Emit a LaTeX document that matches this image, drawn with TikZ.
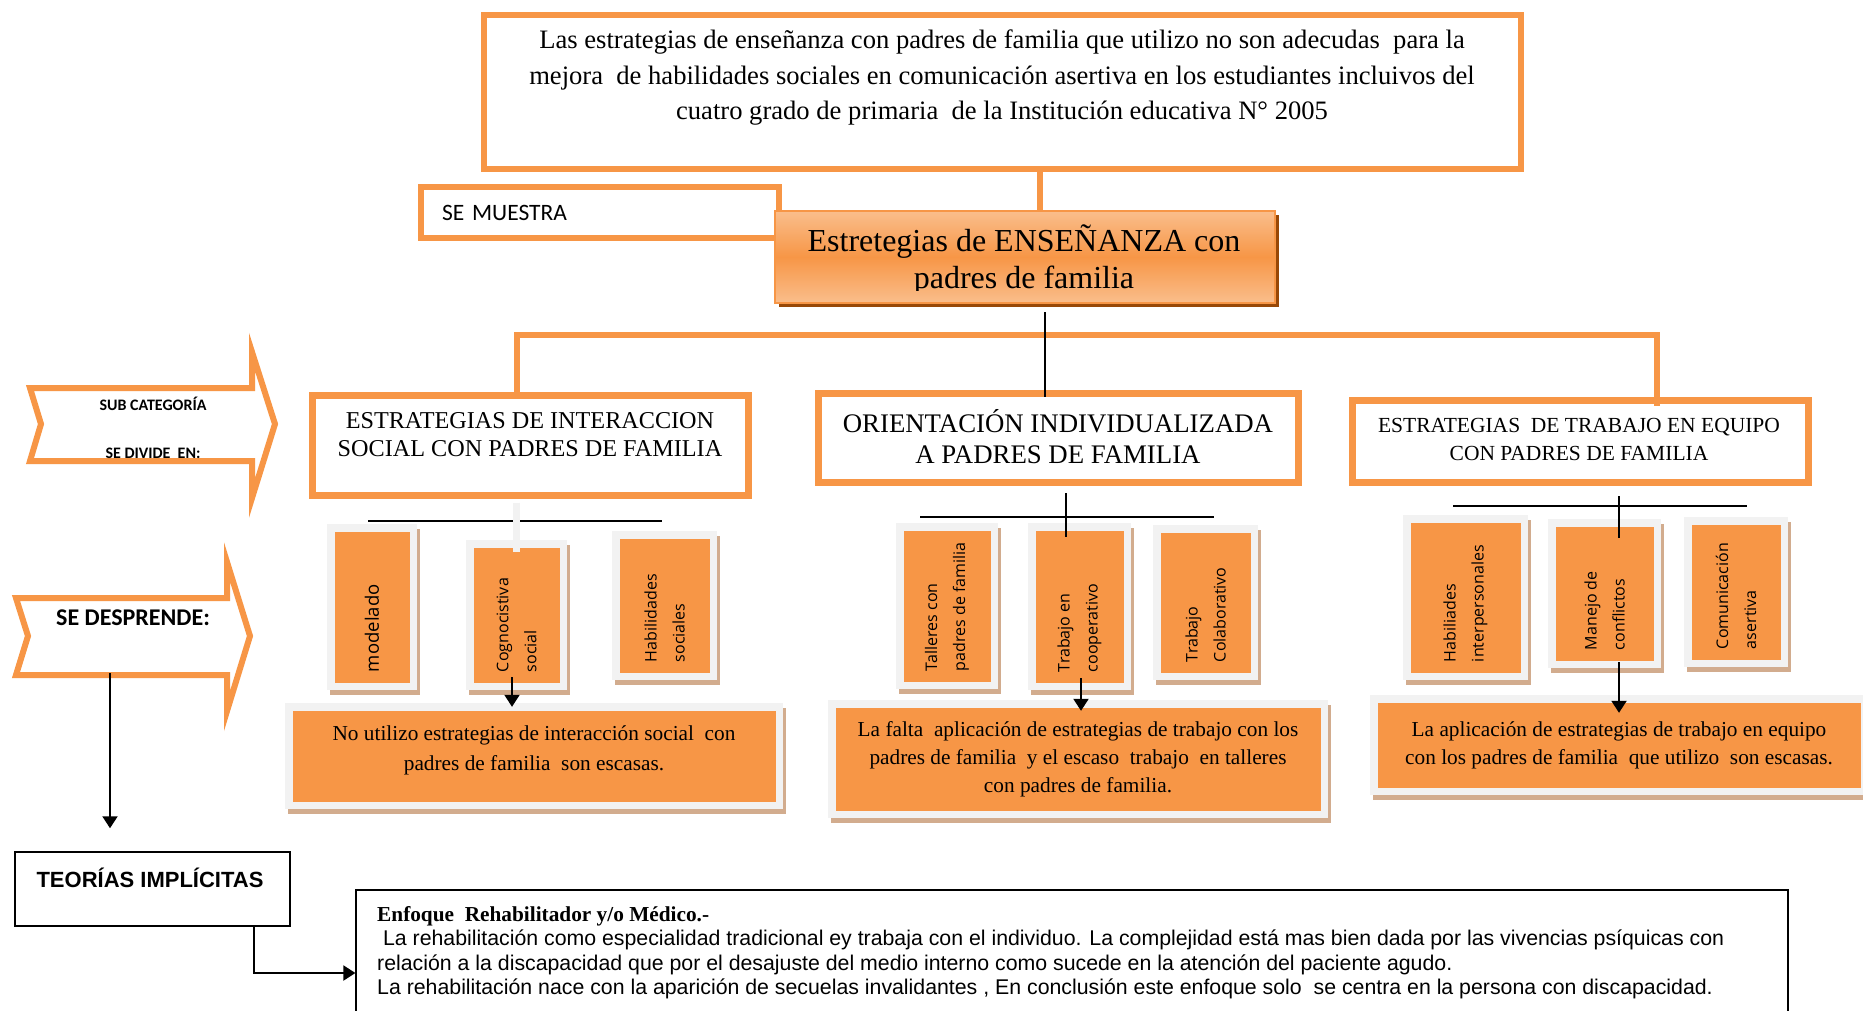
\documentclass[tikz,border=0pt]{standalone}
\usepackage{fontspec}
\setmainfont{Liberation Serif}
\newfontfamily\arialf{Liberation Sans}
\newfontfamily\calibrif{Carlito}
\newfontfamily\opensansf{Open Sans}
\usepackage{xcolor}
\usetikzlibrary{arrows.meta, shadows, calc}

\definecolor{ofill}{HTML}{F79646}
\definecolor{olight}{HTML}{FABE8C}
\definecolor{oshade}{HTML}{984807}
\definecolor{frmgray}{HTML}{F2F2F2}
\definecolor{shtan}{HTML}{D2AC8E}

\tikzset{
  catbox/.style={rectangle, draw=ofill, line width=7pt, fill=white, inner sep=0pt},
  mainbox/.style={rectangle, draw=ofill, line width=2pt, top color=olight,
                  bottom color=olight, middle color=ofill, inner sep=0pt,
                  drop shadow={shadow xshift=4pt, shadow yshift=-4pt, fill=oshade, opacity=1}},
  framed/.style={rectangle, fill=frmgray, inner sep=0pt,
                 drop shadow={shadow xshift=3pt, shadow yshift=-5pt, fill=shtan, opacity=1},
                 path picture={\fill[ofill]
                   ([shift={(7.5pt,-7.5pt)}]path picture bounding box.north west) rectangle
                   ([shift={(-7.5pt,7.5pt)}]path picture bounding box.south east);}},
  chev/.style={draw=ofill, line width=6pt, fill=white, line join=miter},
  oline/.style={draw=ofill, line width=6pt},
  bline/.style={draw=black, line width=1.5pt},
  arrow/.style={-{Triangle[length=12pt, width=15pt]}, draw=black, line width=2pt},
}

\begin{document}
\begin{tikzpicture}[x=1pt, y=-1pt,
  vtxt/.style={rotate=90, anchor=west, align=left, inner sep=0pt,
               font=\opensansf\fontsize{16}{28}\selectfont},
  restxt/.style={align=center, font=\fontsize{21.3}{28}\selectfont},
  cattxt/.style={align=center, inner sep=0pt}
]
  \useasboundingbox (0,0) rectangle (1863,1010);
  \fill[white] (0,0) rectangle (1863,1010);

  % problem statement and main topic
  \node[catbox, line width=6pt, minimum width=1037pt, minimum height=154pt] (prob) at (1002.5,92) {};
  \node[align=center, font=\fontsize{26.6}{35.5}\selectfont] (probtxt) at (1002,78)
    {Las estrategias de enseñanza con padres de familia que utilizo no son adecudas\ \ para la\\
     mejora\ \ de habilidades sociales en comunicación asertiva en los estudiantes incluivos del\\
     cuatro grado de primaria\ \ de la Institución educativa N° 2005};

  \node[catbox, line width=6pt, minimum width=358pt, minimum height=51pt, text width=316pt,
        align=left, font=\calibrif\fontsize{23.5}{26}\selectfont] (muestra) at (600,212.5) {SE MUESTRA};

  \node[mainbox, minimum width=500pt, minimum height=92pt] (main) at (1025,257) {};
  \begin{scope}
    \clip (main.north west) rectangle ([yshift=14pt]main.south east);
    \node[align=center, font=\fontsize{32}{37}\selectfont] (maintxt) at (1024,260)
      {Estretegias de ENSEÑANZA con\\padres de familia};
  \end{scope}
  \draw[oline] ([xshift=15pt,yshift=-1pt]main.north) -- ([xshift=15pt]main.north |- prob.south);

  % sub categories
  \node[catbox, minimum width=436pt, minimum height=100pt] (catA) at (530.5,445.5) {};
  \node[catbox, minimum width=480pt, minimum height=89pt] (catB) at (1058.5,438) {};
  \node[catbox, minimum width=456pt, minimum height=82pt] (catC) at (1580.5,441.5) {};
  \node[cattxt, font=\fontsize{24.2}{28}\selectfont] (catAtxt) at (530,435)
    {ESTRATEGIAS DE INTERACCION\\SOCIAL CON PADRES DE FAMILIA};
  \node[cattxt, font=\fontsize{26.8}{30.5}\selectfont] (catBtxt) at (1058,436.5)
    {ORIENTACIÓN INDIVIDUALIZADA\\A PADRES DE FAMILIA};
  \node[cattxt, font=\fontsize{21.5}{28}\selectfont] (catCtxt) at (1579,439)
    {ESTRATEGIAS\ \ DE TRABAJO EN EQUIPO\\CON PADRES DE FAMILIA};

  \coordinate (brL) at (517,335);
  \coordinate (brR) at (1657,335);
  \draw[oline] (catA.north -| brL) -- (brL) -- (brR) -- ([yshift=-8.5pt]catC.north -| brR);
  \draw[bline] ([xshift=20pt,yshift=-8pt]main.south) -- ([xshift=-13.5pt,yshift=-6.5pt]catB.north);

  % left signs
  \draw[chev] (30,388) -- (252,388) -- (252,352) -- (275,424) -- (252,498)
              -- (252,461) -- (30,461) -- (41,424) -- cycle;
  \node[font=\calibrif\bfseries\fontsize{16}{19}\selectfont] (subcat) at (153,404) {SUB CATEGORÍA};
  \begin{scope}
    \clip (30,388) rectangle (252,458);
    \node[font=\calibrif\bfseries\fontsize{16}{19}\selectfont] (divide) at (153,453) {SE DIVIDE\ \ EN:};
  \end{scope}
  \draw[chev] (16,598) -- (227,598) -- (227,562) -- (250,636) -- (227,711)
              -- (227,675) -- (16,675) -- (28,636) -- cycle;
  \node[font=\calibrif\bfseries\fontsize{24}{28}\selectfont] (desprende) at (133,618) {SE DESPRENDE:};

  % group A
  \coordinate (hA1) at (368,521); \coordinate (hA2) at (662,521);
  \draw[bline] (hA1) -- (hA2);
  \node[framed, minimum width=90pt, minimum height=166pt] (a1) at (372,607) {};
  \node[framed, minimum width=101pt, minimum height=150pt] (a2) at (516.5,615) {};
  \node[framed, minimum width=105pt, minimum height=149pt] (a3) at (664.5,605.5) {};
  \node[vtxt, font=\opensansf\fontsize{18.5}{28}\selectfont] (a1t) at ([yshift=18pt]a1.south) {modelado};
  \node[vtxt] (a2t) at ([yshift=18pt]a2.south) {Cognocistiva\\social};
  \node[vtxt] (a3t) at ([yshift=18pt]a3.south) {Habilidades\\sociales};
  \draw[frmgray, line width=7pt] ([xshift=-14pt,yshift=-3.5pt]catA.south) -- ([yshift=-12pt]a2.north);

  % group B
  \coordinate (hB1) at (920,517); \coordinate (hB2) at (1214,517);
  \draw[bline] (hB1) -- (hB2);
  \node[framed, minimum width=102pt, minimum height=166pt] (b1) at (947,606) {};
  \node[framed, minimum width=103pt, minimum height=167pt] (b2) at (1079.5,606.5) {};
  \node[framed, minimum width=105pt, minimum height=155pt] (b3) at (1205.5,602.5) {};
  \node[vtxt] (b1t) at ([yshift=18pt]b1.south) {Talleres con\\padres de familia};
  \node[vtxt] (b2t) at ([yshift=18pt]b2.south) {Trabajo en\\cooperativo};
  \node[vtxt] (b3t) at ([yshift=18pt]b3.south) {Trabajo\\Colaborativo};
  \draw[bline] ([xshift=7.5pt,yshift=-7pt]catB.south) -- ([xshift=-13.5pt,yshift=-14pt]b2.north);

  % group C
  \coordinate (hC1) at (1453,506); \coordinate (hC2) at (1747,506);
  \draw[bline] (hC1) -- (hC2);
  \node[framed, minimum width=125pt, minimum height=165pt] (c1) at (1465.5,597.5) {};
  \node[framed, minimum width=113pt, minimum height=149pt] (c2) at (1604.5,593.5) {};
  \node[framed, minimum width=104pt, minimum height=150pt] (c3) at (1736,592) {};
  \node[vtxt] (c1t) at ([yshift=18pt]c1.south) {Habiliades\\interpersonales};
  \node[vtxt] (c2t) at ([yshift=18pt]c2.south) {Manejo de\\conflictos};
  \node[vtxt] (c3t) at ([yshift=18pt]c3.south) {Comunicación\\asertiva};
  \draw[bline] ([xshift=38.5pt,yshift=-10pt]catC.south) -- ([xshift=14.5pt,yshift=-19pt]c2.north);

  % results
  \node[framed, minimum width=498pt, minimum height=106pt] (resA) at (534,756) {};
  \node[restxt, font=\fontsize{21.3}{30}\selectfont] (resAtxt) at (534,750)
    {No utilizo estrategias de interacción social\ \ con\\padres de familia\ \ son escasas.};
  \node[framed, restxt, minimum width=500pt, minimum height=118pt] (resB) at (1078,759)
    {La falta\ \ aplicación de estrategias de trabajo con los\\padres de familia\ \ y el escaso\ \ trabajo\ \ en talleres\\con padres de familia.};
  \node[framed, restxt, minimum width=498pt, minimum height=100pt] (resC) at (1619,745)
    {La aplicación de estrategias de trabajo en equipo\\con los padres de familia\ \ que utilizo\ \ son escasas.};
  \draw[arrow] ([xshift=-4.5pt,yshift=13pt]a2.south) -- ([xshift=-22pt,yshift=-4pt]resA.north);
  \draw[arrow] ([xshift=1.5pt,yshift=12pt]b2.south) -- ([xshift=3pt,yshift=-11pt]resB.north);
  \draw[arrow] ([xshift=14.5pt,yshift=6pt]c2.south) -- ([yshift=-18pt]resC.north);

  % implicit theories
  \node[draw=black, line width=1.5pt, minimum width=275pt, minimum height=74pt, inner sep=0pt] (teorias) at (152.5,889) {};
  \node[font=\arialf\bfseries\fontsize{22}{25}\selectfont] (teoriastxt) at (150,878) {TEORÍAS IMPLÍCITAS};
  \coordinate (dsp) at (110,673);
  \draw[arrow] (dsp) -- ([xshift=-42.5pt,yshift=23pt]teorias.north);

  \node[draw=black, line width=1.2pt, minimum width=1432pt, minimum height=124pt, inner sep=0pt] (enfoque) at (1072,952) {};
  \node[anchor=north west, align=left, inner sep=0pt, font=\arialf\fontsize{21.3}{24.5}\selectfont] (enftxt) at (377,906)
    {{\rmfamily\bfseries Enfoque\ \ Rehabilitador y/o Médico.-}\\
     \ La rehabilitación como especialidad tradicional ey trabaja con el individuo. La complejidad está mas bien dada por las vivencias psíquicas con\\
     relación a la discapacidad que por el desajuste del medio interno como sucede en la atención del paciente agudo.\\
     La rehabilitación nace con la aparición de secuelas invalidantes , En conclusión este enfoque solo\ \ se centra en la persona con discapacidad.};
  \draw[arrow] ([xshift=101.5pt]teorias.south) |- ([yshift=-21pt]enfoque.west);
\end{tikzpicture}
\end{document}
